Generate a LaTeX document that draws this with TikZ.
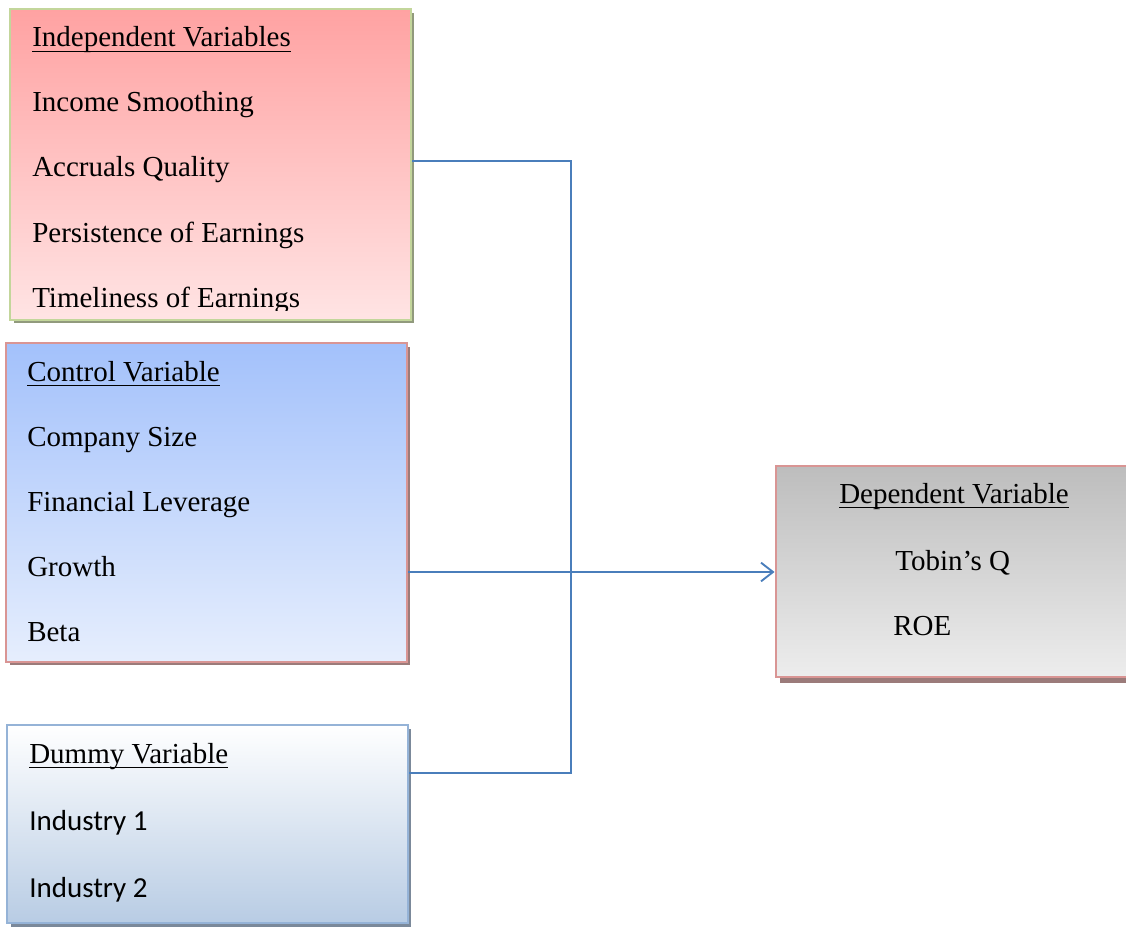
\documentclass[tikz,border=0pt]{standalone}
\usepackage{fontspec}
\setmainfont{Liberation Serif}
\newfontfamily\calibrilike{Carlito}
\usetikzlibrary{fit,arrows.meta}

% underlined heading with a heavier rule
\newcommand{\headul}[1]{\setbox0=\hbox{#1}\rlap{\rule[-4pt]{\wd0}{1.3pt}}\box0}

\definecolor{indepTop}{HTML}{FFA2A2}
\definecolor{indepBot}{HTML}{FFE4E4}
\definecolor{indepLine}{HTML}{C3D69B}
\definecolor{ctrlTop}{HTML}{A3C1FB}
\definecolor{ctrlBot}{HTML}{E6EEFD}
\definecolor{pinkLine}{HTML}{D99594}
\definecolor{dumTop}{HTML}{FFFFFF}
\definecolor{dumBot}{HTML}{B8CCE4}
\definecolor{dumLine}{HTML}{95B3D7}
\definecolor{depTop}{HTML}{BDBDBD}
\definecolor{depBot}{HTML}{EDEDED}
\definecolor{link}{HTML}{4A7EBB}

\tikzset{
  varbox/.style={inner sep=0pt, line width=2.2pt},
  boxshadow/.style={inner sep=0pt, fill=#1!60!black!80},
  item/.style={anchor=base west, inner sep=0pt, font=\fontsize{21.75}{26}\selectfont},
  itemsans/.style={anchor=base west, inner sep=0pt, font=\fontsize{21.75}{26}\selectfont\calibrilike},
  head/.style={anchor=base west, inner sep=0pt, font=\fontsize{21.75}{26}\selectfont},
  linkline/.style={draw=link, line width=1.6pt},
}

\begin{document}
\begin{tikzpicture}[x=0.75pt,y=-0.75pt]
\useasboundingbox (0,0) rectangle (1126,927);

% drop shadows, offset down and right
\node[boxshadow=indepLine, fit={(14,13) (414,323)}] (indepsh) {};
\node[boxshadow=pinkLine,  fit={(10,347) (410,665)}] (ctrlsh) {};
\node[boxshadow=dumLine,   fit={(11,729) (411,927)}] (dumsh) {};
\node[boxshadow=pinkLine,  fit={(780,470) (1140,683)}] (depsh) {};

% variable boxes
\node[varbox, draw=indepLine, top color=indepTop, bottom color=indepBot,
      fit={(10,9) (411,320)}] (indep) {};
\node[varbox, draw=pinkLine, top color=ctrlTop, bottom color=ctrlBot,
      fit={(6,343) (407,662)}] (ctrl) {};
\node[varbox, draw=dumLine, top color=dumTop, bottom color=dumBot,
      fit={(7,725) (408,923)}] (dum) {};
\node[varbox, draw=pinkLine, top color=depTop, bottom color=depBot,
      fit={(776,466) (1136,677)}] (dep) {};

% independent variables (last line runs into the box bottom)
\begin{scope}
  \clip (12,11) rectangle (409,310);
  \node[head] (i0) at (32,47)  {\headul{Independent Variables}};
  \node[item] (i1) at (32,112) {Income Smoothing};
  \node[item] (i2) at (32,177) {Accruals Quality};
  \node[item] (i3) at (32,242) {Persistence of Earnings};
  \node[item] (i4) at (32,307) {Timeliness of Earnings};
\end{scope}

% control variables
\node[head] (c0) at (27,381) {\headul{Control Variable}};
\node[item] (c1) at (27,446) {Company Size};
\node[item] (c2) at (27,511) {Financial Leverage};
\node[item] (c3) at (27,576) {Growth};
\node[item] (c4) at (27,641) {Beta};

% dummy variables
\node[head] (d0) at (29,763) {\headul{Dummy Variable}};
\node[itemsans] (d1) at (29,830) {Industry 1};
\node[itemsans] (d2) at (29,897) {Industry 2};

% dependent variables
\node[head, anchor=base] (p0) at (954,503) {\headul{Dependent Variable}};
\node[item] (p1) at (895,570) {Tobin’s Q};
\node[item] (p2) at (893,635) {ROE};

% connectors
\coordinate (jtop) at (571,161);
\coordinate (jmid) at (571,572);
\coordinate (jbot) at (571,773);
\draw[linkline] (indep.east |- jtop) -- (jtop) -- (jbot) -- (dum.east |- jbot);
\draw[linkline] (ctrl.east |- jmid) -- (jmid);
\draw[linkline, -{Straight Barb[length=9pt,width=14pt,line width=1.4pt]}]
  (jmid) -- (dep.west |- jmid);
\end{tikzpicture}
\end{document}
